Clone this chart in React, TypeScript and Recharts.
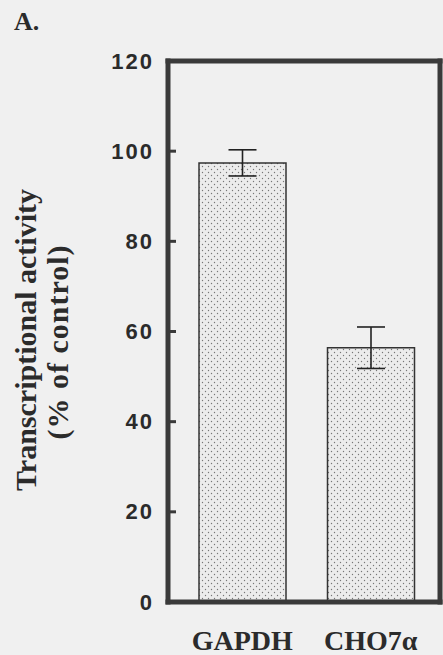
import { BarChart, Bar, XAxis, YAxis, ErrorBar } from "recharts";

const genes = ["GAPDH", "CHO7\u03b1"];
const activity = [97.4, 56.4];
const activityErr = [2.9, 4.6];
const yTicks = [0, 20, 40, 60, 80, 100, 120];

const data = genes.map((gene, i) => ({
  gene,
  activity: activity[i],
  err: activityErr[i],
}));

const INK = "#2b2b2b";
const FRAME = { stroke: "#3a3a3a", strokeWidth: 5, strokeLinecap: "square" as const };
const TICK_GAP = 14;

function GeneTick({ x, y, payload }: any) {
  return (
    <text
      x={x}
      y={y + 48}
      textAnchor="middle"
      fontFamily="'Liberation Serif', 'Times New Roman', serif"
      fontWeight="bold"
      fontSize={28}
      fill={INK}
    >
      {payload.value}
    </text>
  );
}

// value label outside, short tick mark pointing into the plot
function ValueTick({ x, y, payload }: any) {
  const axisX = x + TICK_GAP;
  return (
    <g>
      <text
        x={x}
        y={y}
        textAnchor="end"
        dominantBaseline="central"
        fontFamily="'Liberation Sans', Arial, sans-serif"
        fontWeight="bold"
        fontSize={22}
        letterSpacing={2}
        fill={INK}
      >
        {payload.value}
      </text>
      <line x1={axisX} x2={axisX + 8} y1={y} y2={y} stroke="#3a3a3a" strokeWidth={3} />
    </g>
  );
}

function AxisTitle() {
  return (
    <g fontFamily="'Liberation Serif', 'Times New Roman', serif" fontWeight="bold" fill={INK}>
      <text x={14} y={30} fontSize={26}>
        A.
      </text>
      <text
        transform="translate(25,340) rotate(-90)"
        textAnchor="middle"
        dominantBaseline="central"
        fontSize={30}
      >
        Transcriptional activity
      </text>
      <text
        transform="translate(57,342) rotate(-90)"
        textAnchor="middle"
        dominantBaseline="central"
        fontSize={30}
        letterSpacing={1}
      >
        (% of control)
      </text>
    </g>
  );
}

export default function App() {
  return (
    <div
      style={{
        position: "absolute",
        left: 0,
        top: 0,
        width: 443,
        height: 655,
        background: "#f0f0f0",
        overflow: "hidden",
      }}
    >
      <BarChart
        width={443}
        height={655}
        data={data}
        margin={{ top: 58, right: 0, bottom: 0, left: 0 }}
      >
        <defs>
          <pattern id="dots" width="6" height="6" patternUnits="userSpaceOnUse">
            <rect width="6" height="6" fill="#ececec" />
            <circle cx="1.5" cy="1.5" r="0.7" fill="#777" />
            <circle cx="4.5" cy="4.5" r="0.7" fill="#777" />
          </pattern>
        </defs>
        <XAxis
          xAxisId="bottom"
          dataKey="gene"
          height={53}
          padding={{ left: 10, right: 5 }}
          axisLine={FRAME}
          tickLine={false}
          tickSize={0}
          tickMargin={0}
          tick={<GeneTick />}
        />
        <XAxis
          xAxisId="top"
          orientation="top"
          dataKey="gene"
          height={3}
          axisLine={FRAME}
          tickLine={false}
          tick={false}
        />
        <YAxis
          yAxisId="left"
          width={168}
          domain={[0, 120]}
          ticks={yTicks}
          axisLine={FRAME}
          tickLine={false}
          tickSize={0}
          tickMargin={TICK_GAP}
          tick={<ValueTick />}
          label={{ content: () => <AxisTitle /> }}
        />
        <YAxis
          yAxisId="right"
          orientation="right"
          width={3}
          domain={[0, 120]}
          axisLine={FRAME}
          tickLine={false}
          tick={false}
        />
        <Bar
          xAxisId="bottom"
          yAxisId="left"
          dataKey="activity"
          barSize={87}
          fill="url(#dots)"
          stroke="#333"
          strokeWidth={1.5}
          isAnimationActive={false}
        >
          <ErrorBar dataKey="err" width={14} stroke="#222" strokeWidth={1.6} />
        </Bar>
      </BarChart>
    </div>
  );
}
